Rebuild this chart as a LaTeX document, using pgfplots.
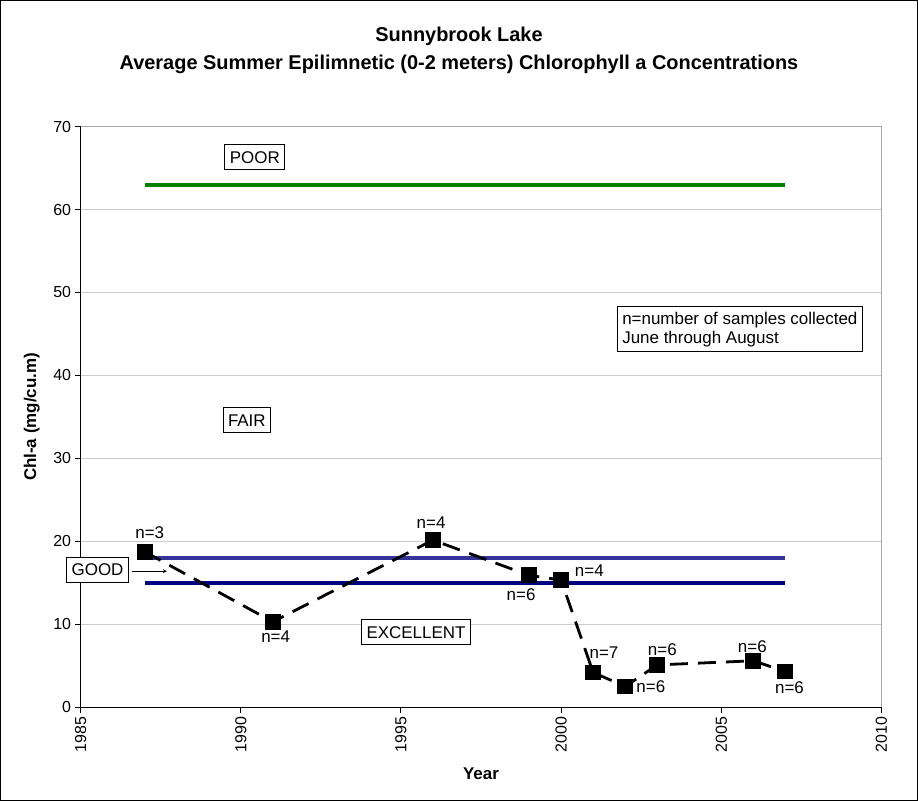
\documentclass[border=0pt]{standalone}
\usepackage{fontspec}
\setmainfont{Liberation Sans}
\usepackage{pgfplots}
\pgfplotsset{compat=1.18}
\definecolor{poorgreen}{HTML}{008000}
\definecolor{goodblue}{HTML}{333399}
\definecolor{exblue}{HTML}{000080}
\begin{document}
\begin{tikzpicture}
\begin{axis}[
  scale only axis, width=800bp, height=580bp,
  xmin=1985, xmax=2010, ymin=0, ymax=70,
  xtick={1985,1990,...,2010}, ytick={0,10,...,70},
  /pgf/number format/assume math mode=true,
  /pgf/number format/1000 sep={},
  xticklabel style={rotate=90, anchor=east, font=\fontsize{16}{18}\selectfont},
  yticklabel style={font=\fontsize{16}{18}\selectfont},
  axis x line=bottom, axis y line=left,
  axis line style={-, black, line width=0.9bp},
  tick align=outside, major tick length=6bp,
  tick style={black, line width=0.9bp},
  ymajorgrids, grid style={gray!40, line width=0.9bp},
  xlabel={\bfseries Year}, ylabel={\bfseries Chl-a (mg/cu.m)},
  label style={font=\fontsize{17}{19}\selectfont},
  xlabel style={at={(axis description cs:0.5,-0.114)}, anchor=center},
  ylabel style={at={(axis description cs:-0.061,0.5)}, anchor=center, rotate=0},
  clip=false,
]
% plot area top/right border
\draw[gray!70, line width=1.2bp] (rel axis cs:0,1) -- (rel axis cs:1,1) -- (rel axis cs:1,0);
% criteria lines
\addplot[poorgreen, line width=3.8bp] coordinates {(1987,63) (2007,63)};
\addplot[goodblue, line width=3.4bp] coordinates {(1987,18) (2007,18)};
\addplot[exblue, line width=3.4bp] coordinates {(1987,15) (2007,15)};
% data
\addplot[black, line width=2.8bp, dash pattern=on 18bp off 10bp, mark=square*, mark size=6.5bp, mark options={solid, fill=black}] coordinates {
 (1987,18.75) (1991,10.3) (1996,20.15) (1999,15.9) (2000,15.33)
 (2001,4.19) (2002,2.5) (2003,5.1) (2006,5.6) (2007,4.3)};
% n labels
\begin{scope}[every node/.style={font=\fontsize{17}{19}\selectfont, inner sep=0pt}]
\node at (axis cs:1987.16,21.0) {n=3};
\node at (axis cs:1991.09,8.5) {n=4};
\node at (axis cs:1995.94,22.3) {n=4};
\node at (axis cs:1998.75,13.6) {n=6};
\node at (axis cs:2000.88,16.41) {n=4};
\node at (axis cs:2001.34,6.6) {n=7};
\node at (axis cs:2002.8,2.53) {n=6};
\node at (axis cs:2003.16,6.9) {n=6};
\node at (axis cs:2005.97,7.3) {n=6};
\node at (axis cs:2007.13,2.3) {n=6};
\end{scope}
% category boxes
\begin{scope}[every node/.style={draw=black, fill=white, line width=0.9bp, font=\fontsize{17}{19}\selectfont, inner xsep=5bp, inner ysep=6.5bp}]
\node at (axis cs:1990.44,66.3) {POOR};
\node at (axis cs:1990.19,34.6) {FAIR};
\node at (axis cs:1985.53,16.6) {GOOD};
\node at (axis cs:1995.47,9.05) {EXCELLENT};
\node[align=left, inner xsep=5bp, inner ysep=5bp] at (axis cs:2005.58,45.56) {n=number of samples collected\\June through August};
\end{scope}
\draw[-stealth, line width=0.9bp] (axis cs:1986.6,16.4) -- (axis cs:1987.7,16.4);
% title
\node[font=\fontsize{20}{22}\selectfont\bfseries] at (axis description cs:0.4725,1.155) {Sunnybrook Lake};
\node[font=\fontsize{20}{22}\selectfont\bfseries] at (axis description cs:0.4725,1.107) {Average Summer Epilimnetic (0-2 meters) Chlorophyll a Concentrations};
% outer frame
\draw[black, line width=1bp] (axis description cs:-0.1,-0.1603) rectangle (axis description cs:1.045,1.2172);
\end{axis}
\end{tikzpicture}
\end{document}
